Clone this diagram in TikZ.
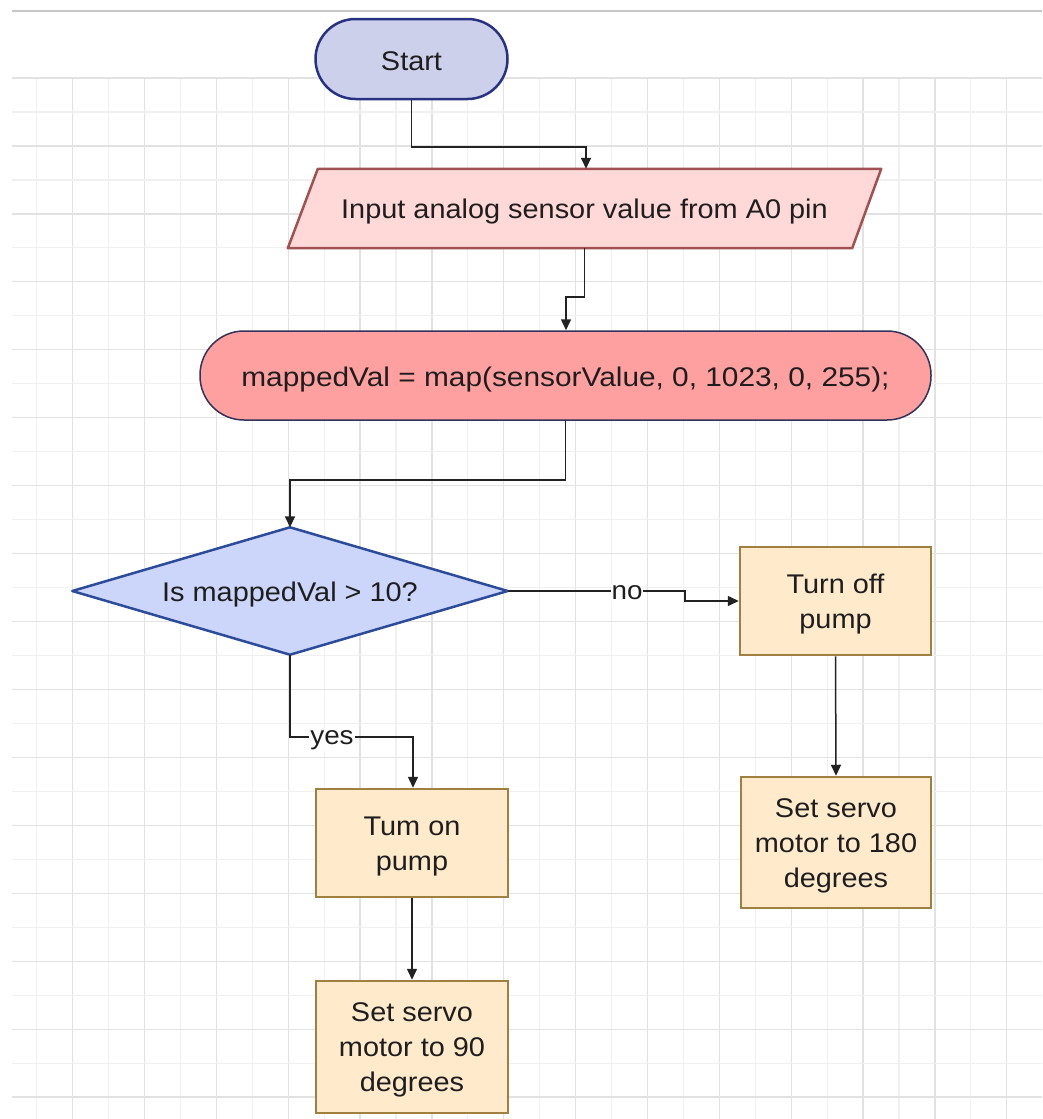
\documentclass[tikz,border=0pt]{standalone}
\usepackage{fontspec}
\setmainfont{Liberation Sans}[FakeStretch=1.07]
\newfontfamily\widefont{Liberation Sans}[FakeStretch=1.105]
\usetikzlibrary{arrows.meta}
\definecolor{txt}{HTML}{1E1E1E}
\definecolor{lineC}{HTML}{222222}
\definecolor{gridL}{HTML}{F0F0F0}
\definecolor{gridD}{HTML}{E2E2E2}
\definecolor{startF}{HTML}{CDD0EA}
\definecolor{startB}{HTML}{283282}
\definecolor{inF}{HTML}{FFD8D8}
\definecolor{inB}{HTML}{A05252}
\definecolor{mapF}{HTML}{FFA0A0}
\definecolor{mapB}{HTML}{32325A}
\definecolor{decF}{HTML}{CCD6FA}
\definecolor{decB}{HTML}{2D4B9B}
\definecolor{boxF}{HTML}{FFEACC}
\definecolor{boxB}{HTML}{A08040}
\tikzset{
  every node/.style={font=\fontsize{27}{35}\selectfont, text=txt},
  gl/.style={draw=gridL, line width=1.2pt},
  gd/.style={draw=gridD, line width=1.3pt},
  conn/.style={draw=lineC, line width=1.5pt, -{Triangle[length=11pt,width=10pt]}},
  procbox/.style={draw=boxB, fill=boxF, line width=2.5pt, inner sep=0pt},
  txtlbl/.style={align=center, inner sep=0pt},
  lbl/.style={fill=white, inner sep=1pt, font=\fontsize{26}{30}\selectfont}
}
\begin{document}
\begin{tikzpicture}[x=1pt,y=-1pt]
\useasboundingbox (0,0) rectangle (1042,1119);
\fill[white] (0,0) rectangle (1042,1119);
% grid
\foreach \i [evaluate=\i as \xx using 36.7+\i*35.93] in {0,...,27}{
  \ifodd\i \draw[gd] (\xx,78) -- (\xx,1119); \else \draw[gl] (\xx,78) -- (\xx,1119); \fi
}
\foreach \i [evaluate=\i as \yy using 78+\i*33.97] in {0,...,30}{
  \ifodd\i \draw[gl] (12,\yy) -- (1042,\yy); \else \draw[gd] (12,\yy) -- (1042,\yy); \fi
}
\draw[draw=black!22, line width=1.3pt] (12,11) -- (1042,11);

% shapes
\node[draw=startB, fill=startF, line width=2.5pt, rounded corners=40pt,
      minimum width=192pt, minimum height=80pt] (start) at (411.5,59) {};
\node[txtlbl] (startT) at ([yshift=-2.5pt]start.center) {Start};

\node[minimum width=593pt, minimum height=79pt, inner sep=0pt] (input) at (584.5,208.5) {};
\filldraw[draw=inB, fill=inF, line width=2.5pt, line join=round]
  ([xshift=30pt]input.north west) -- (input.north east) -- ([xshift=-29pt]input.south east) -- (input.south west) -- cycle;
\node[txtlbl] (inputT) at ([yshift=-3.5pt]input.center) {Input analog sensor value from A0 pin};

\node[draw=mapB, fill=mapF, line width=1.5pt, rounded corners=44pt,
      minimum width=731pt, minimum height=89pt] (mapped) at (565.5,375.5) {};
\node[txtlbl, font=\widefont\fontsize{27}{35}\selectfont] (mappedT) at ([yshift=-4pt]mapped.center)
      {mappedVal = map(sensorValue, 0, 1023, 0, 255);};

\node[minimum width=435pt, minimum height=127pt, inner sep=0pt] (dec) at (290,591) {};
\filldraw[draw=decB, fill=decF, line width=2.5pt, line join=round]
  (dec.north) -- (dec.east) -- (dec.south) -- (dec.west) -- cycle;
\node[txtlbl] (decT) at ([yshift=-3.5pt]dec.center) {Is mappedVal > 10?};

\node[procbox, minimum width=191pt, minimum height=108pt] (off) at (835.5,601) {};
\node[txtlbl] (offT) at ([yshift=-3.5pt]off.center) {Turn off\\pump};
\node[procbox, minimum width=190pt, minimum height=131pt] (s180) at (836,842.5) {};
\node[txtlbl] (s180T) at ([yshift=-3pt]s180.center) {Set servo\\motor to 180\\degrees};
\node[procbox, minimum width=192pt, minimum height=108pt] (on) at (412,843) {};
\node[txtlbl] (onT) at ([yshift=-3.5pt]on.center) {Tum on\\pump};
\node[procbox, minimum width=192pt, minimum height=132pt] (s90) at (412,1047) {};
\node[txtlbl] (s90T) at ([yshift=-3pt]s90.center) {Set servo\\motor to 90\\degrees};

% connectors
\coordinate (j1) at (586,147);
\coordinate (j2) at (566,297);
\coordinate (j3) at (290,480);
\coordinate (j4) at (685,591);
\coordinate (j5) at (413,737);

\draw[conn] (start.south) |- (j1) -- (j1 |- input.north);
\draw[conn] (input.south) |- (j2) -- (j2 |- mapped.north);
\draw[conn] (mapped.south) |- (j3) -- (dec.north);
\draw[conn] (dec.east) -- (j4) |- (off.west);
\node[lbl] (no) at (627,593) {no};
\draw[conn] (dec.south) |- (j5) -- (j5 |- on.north);
\node[lbl] (yes) at (332,740) {yes};
\draw[conn] (off.south) -- (s180.north);
\draw[conn] (on.south) -- (s90.north);
\end{tikzpicture}
\end{document}
